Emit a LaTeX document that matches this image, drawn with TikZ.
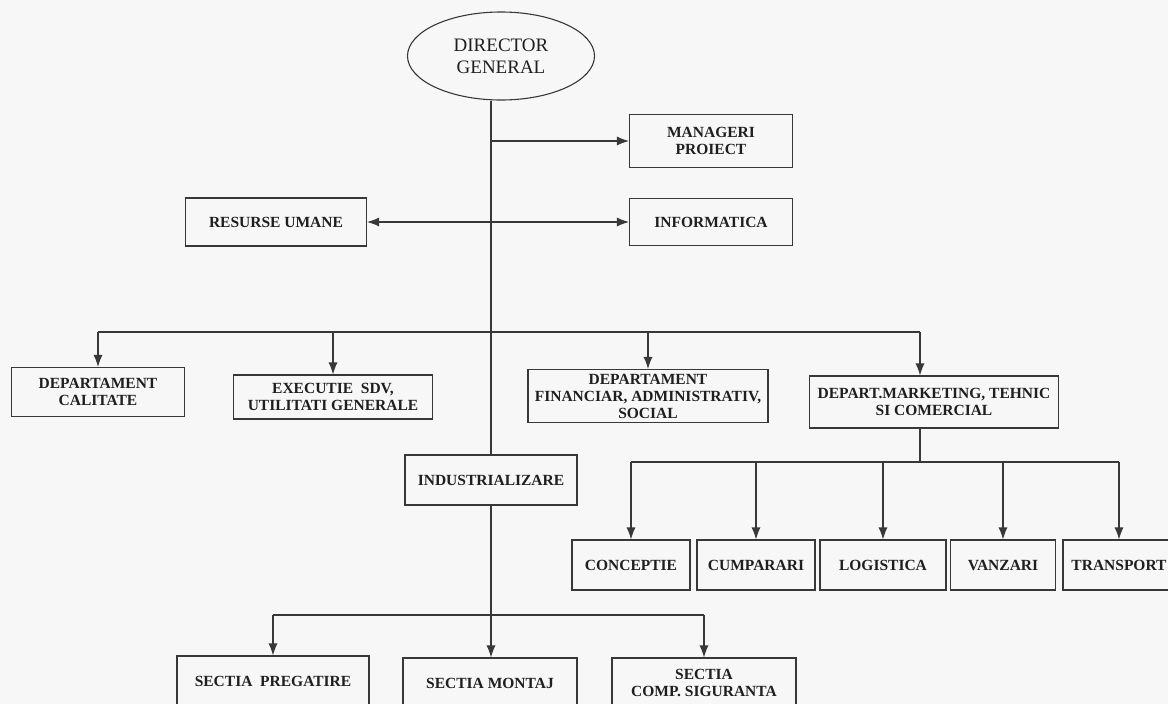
\documentclass[tikz,border=0pt]{standalone}
\usepackage{fontspec}
\setmainfont{Liberation Serif}
\usetikzlibrary{arrows.meta,shapes.geometric}

\begin{document}
\begin{tikzpicture}[x=1pt, y=-1pt, color=black!78, line width=1.1pt,
    >={Latex[length=12pt,width=9pt]},
    box/.style={draw, rectangle, align=center, inner sep=1pt, text=black!88,
      font=\bfseries\fontsize{15.5}{17}\selectfont}]

    \useasboundingbox (0,0) rectangle (1168,704);
    \fill[gray!6] (0,0) rectangle (1168,704);

    % top
    \node[draw, ellipse, align=center, minimum width=187, minimum height=88, text=black!88,
      font=\fontsize{19}{22}\selectfont] (dg) at (501,56) {DIRECTOR\\GENERAL};
    \node[box, minimum width=163, minimum height=53] (mp) at (711,141) {MANAGERI\\PROIECT};
    \node[box, minimum width=163, minimum height=47] (inf) at (711,222) {INFORMATICA};
    \node[box, minimum width=181, minimum height=48] (ru) at (276,222) {RESURSE UMANE};

    % departments
    \node[box, minimum width=173, minimum height=49] (dc) at (98,392) {DEPARTAMENT\\CALITATE};
    \node[box, minimum width=199, minimum height=44] (ex) at (333,397) {EXECUTIE\ \ SDV,\\UTILITATI GENERALE};
    \node[box, minimum width=240, minimum height=53] (df) at (648,396) {DEPARTAMENT\\FINANCIAR, ADMINISTRATIV,\\SOCIAL};
    \node[box, minimum width=249, minimum height=52] (dm) at (934,402) {DEPART.MARKETING, TEHNIC\\SI COMERCIAL};
    \node[box, minimum width=172, minimum height=50] (ind) at (491,480) {INDUSTRIALIZARE};

    \foreach \n/\x/\w/\t in {c1/631/118/CONCEPTIE, c2/756/118/CUMPARARI,
      c3/883/126/LOGISTICA, c4/1003/105/VANZARI, c5/1119/112/TRANSPORT}
    \node[box, minimum width=\w, minimum height=50] (\n) at (\x,565) {\t};

    \node[box, minimum width=192, minimum height=50] (s1) at (273,681) {SECTIA\ \ PREGATIRE};
    \node[box, minimum width=174, minimum height=50] (s2) at (490,683) {SECTIA MONTAJ};
    \node[box, minimum width=184, minimum height=50] (s3) at (704,683) {SECTIA\\COMP. SIGURANTA};

    % trunk
    \draw (dg.south -| ind.north) -- (ind.north);
    \draw[->] (ind.south) -- (ind.south |- s2.north);
    \draw[->] (mp.west -| ind.north) -- (mp.west);
    \draw[<->] (ru.east) -- (inf.west);

    % buses
    \coordinate (b1) at (0,332);
    \coordinate (dmin) at ([xshift=-14pt]dm.north);
    \coordinate (dmout) at ([xshift=-14pt]dm.south);
    \draw (b1 -| dc.north) -- (b1 -| dmin);
    \foreach \n in {dc,ex,df}
    \draw[->] (b1 -| \n.north) -- (\n.north);
    \draw[->] (b1 -| dmin) -- (dmin);

    \coordinate (b2) at (0,462);
    \draw (dmout) -- (b2 -| dmout);
    \draw (b2 -| c1.north) -- (b2 -| c5.north);
    \foreach \n in {c1,c2,c3,c4,c5}
    \draw[->] (b2 -| \n.north) -- (\n.north);

    \coordinate (b3) at (0,615);
    \draw (b3 -| s1.north) -- (b3 -| s3.north);
    \foreach \n in {s1,s3}
    \draw[->] (b3 -| \n.north) -- (\n.north);

\end{tikzpicture}
\end{document}
